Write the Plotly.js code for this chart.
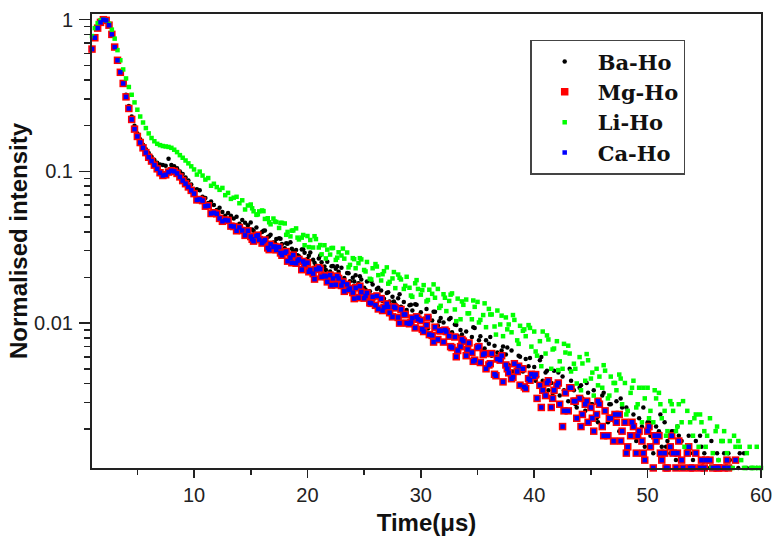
<!DOCTYPE html>
<html>
<head>
<meta charset="utf-8">
<script src="https://cdn.plot.ly/plotly-3.0.1.min.js"></script>
<style>html,body{margin:0;padding:0;background:#fff;}#chart{width:774px;height:541px;}</style>
</head>
<body>
<div id="chart"></div>
<script>
// Main samples: from 1 µs, one every 0.25 µs, up to 60 µs
const timeStart = 1.0;
const timeStep = 0.25;
// Extra samples read in the tail, between the main ones: from 15.125 µs, one every 0.5 µs
const midStart = 15.125;
const midStep = 0.5;

const seriesNames = ["Ba-Ho", "Mg-Ho", "Li-Ho", "Ca-Ho"];

// Normalised intensity (null = below the axis)
const baHo = [
.64,.76,.88,.96, 1.0,.99,.92,.80, .66,.54,.45,.38, .32,.27,.23,.20,
.178,.163,.150,.140, .132,.125,.119,.114, .111,.110,.109,.121, .110,.108,.105,.100,
.096,.091,.087,.082, .0758,.0762,.0750,.0680, .0667,.0618,.0634,.0600, .0556,.0577,.0541,.0511,
.0532,.0511,.0489,.0502, .0452,.0479,.0459,.0441, .0460,.0406,.0427,.0386, .0398,.0408,.0370,.0383,
.0340,.0358,.0363,.0332, .0312,.0333,.0341,.0297, .0303,.0276,.0306,.0291, .0265,.0292,.0262,.0240,
.0267,.0252,.0236,.0254, .0219,.0238,.0228,.0218, .0232,.0198,.0214,.0189, .0199,.0207,.0183,.0194,
.0171,.0188,.0162,.0180, .0152,.0171,.0164,.0145, .0158,.0139,.0149,.0133, .0146,.0128,.0138,.0122,
.0131,.0121,.0133,.0112, .0118,.0107,.0124,.0110, .0104,.0119,.0096,.0108, .0101,.0091,.0106,.0087,
.0098,.0082,.0090,.0078, .0088,.0075,.0081,.0093, .0070,.0082,.0066,.0077, .0073,.0061,.0071,.0064,
.0059,.0070,.0062,.0053, .0066,.0055,.0051,.0060, .0048,.0058,.0052,.0046, .00514,.00444,.00569,.00417,
.00472,.00361,.00403,.00486, .00389,.00333,.00444,.00347, .00306,.00417,.00361,.00278, .00375,.00319,.00264,.00347,
.00292,.00361,.00236,.00306, .00333,.00264,.00222,.00292, .00250,.00306,.00194,.00278, .00222,.00264,.00181,.00250,
.00167,.00236,.00208,.00153, .00222,.00181,.00139,.00208, .00194,.00153,.00222,.00167, .00139,.00194,.00125,.00181,
.00167,.00111,.00153,.00139, .00125,.00167,.00111,.00153, .00139,.00111,.00125,null, .00111,.00125,null,.00139,
null,.00125,.00111,null, .00111,null,.00139,.00111, null,.00111,null,null,
null
];
const baHoMid = [
.0414,.0381,.0407,.0374,.0340,.0360,.0336,.0309,.0280,.0307,
.0278,.0250,.0279,.0224,.0237,.0237,.0187,.0213,.0188,.0204,
.0166,.0189,.0168,.0140,.0160,.0139,.0155,.0119,.0132,.0132,
.0106,.0092,.0119,.0103,.0086,.0108,.0097,.0084,.0070,.0094,
.0077,.0068,.0081,.0060,.0066,.0069,.0048,.0061,.0051,.0059,
.00417,.00597,.00486,.00333,.00472,.00361,.005,.00292,.00389,.00403,
.00292,.00222,.00347,.00292,.00222,.00319,.00278,.00222,.00181,.00278,
.00222,.00181,.0025,.00153,.00194,.00208,.00111,.00181,.00139,.00181,
.00111,.00167,.00139,null,.00139,null,.00139,null,.00111,.00111
];

const mgHo = [
.64,.76,.88,.96, 1.0,.99,.92,.80, .66,.54,.45,.38, .31,.26,.22,.19,
.17,.155,.143,.133, .124,.117,.110,.104, .098,.094,.095,.099, .101,.100,.097,.092,
.087,.083,.079,.075, .0714,.0649,.0653,.0642, .0590,.0594,.0528,.0534, .0526,.0490,.0469,.0478,
.0475,.0436,.0433,.0406, .0427,.0408,.0379,.0406, .0372,.0347,.0374,.0355, .0337,.0353,.0313,.0331,
.0317,.0304,.0317,.0280, .0291,.0256,.0270,.0281, .0248,.0263,.0225,.0244, .0250,.0224,.0212,.0226,
.0232,.0202,.0205,.0187, .0207,.0197,.0179,.0197, .0177,.0162,.0180,.0169, .0159,.0171,.0147,.0160,
.0146,.0158,.0136,.0149, .0131,.0124,.0145,.0127, .0134,.0117,.0110,.0126, .0109,.0123,.0114,.0100,
.0099,.0108,.0093,.0106, .0104,.0088,.0097,.0084, .0083,.0094,.0078,.0089, .0075,.0088,.0082,.0069,
.0081,.0066,.0070,.0076, .0061,.0074,.0064,.0057, .0069,.0055,.0062,.0050, .0053,.0063,.0046,.0058,
.0057,.0041,.0053,.0047, .0043,.0054,.0048,.0039, .0050,.0037,.0043,.0046, .00444,.00319,.00389,.00361,
.00333,.00417,.00278,.00361, .00389,.00292,.00208,.00347, .00264,.00375,.00306,.00236, .00319,.00250,.00292,.00222,
.00278,.00194,.00250,.00292, .00208,.00264,.00181,.00236, .00167,.00222,.00250,.00194, .00222,.00153,.00181,.00208,
.00139,.00194,.00167,.00125, .00194,.00153,.00111,.00167, .00181,.00125,.00139,.00111, .00153,.00139,.00111,.00167,
.00125,null,.00139,.00111, .00111,.00139,null,.00125, .00111,null,.00125,.00111, null,.00111,null,.00111,
.00125,null,null,.00125, null,null,null,null, null,null,null,null,
null
];
const mgHoMid = [
.0357,.0380,.0346,.0305,.0320,.0290,.0296,.0250,.0258,.0255,
.0218,.0195,.0227,.0203,.0178,.0204,.0187,.0166,.0145,.0175,
.0151,.0135,.0151,.0121,.0128,.0128,.0100,.0114,.0101,.0110,
.0091,.0109,.0075,.0089,.0090,.0070,.0060,.0078,.0067,.0056,
.0070,.0063,.0054,.0045,.0061,.0050,.0044,.0052,.0038,.0042,
.00458,.00278,.00403,.00319,.00403,.00264,.00375,.00306,.00208,.00306,
.00236,.00306,.00181,.00236,.0025,.00167,.00139,.00222,.00181,.00139,
.00208,.00181,.00139,.00111,.00181,.00139,.00111,.00153,null,.00111,
.00125,null,.00111,null,.00111,null,null,null,null,null
];

const liHo = [
.78,.88,.95,.99, 1.0,.99,.94,.86, .75,.63,.54,.47, .41,.36,.32,.285,
.255,.23,.21,.193, .178,.166,.158,.152, .149,.147,.146,.145, .143,.139,.134,.128,
.123,.118,.113,.108, .1030,.0953,.0997,.0939, .0883,.0904,.0804,.0829, .0788,.0756,.0778,.0697,
.0722,.0659,.0671,.0680, .0617,.0645,.0561,.0596, .0605,.0546,.0517,.0545, .0553,.0486,.0491,.0448,
.0489,.0464,.0424,.0458, .0454,.0399,.0373,.0408, .0421,.0356,.0366,.0326, .0375,.0353,.0315,.0358,
.0315,.0284,.0326,.0305, .0283,.0313,.0261,.0293, .0279,.0266,.0292,.0242, .0268,.0230,.0248,.0263,
.0224,.0253,.0196,.0230, .0245,.0207,.0191,.0220, .0233,.0187,.0197,.0170, .0209,.0194,.0168,.0202,
.0171,.0149,.0183,.0168, .0154,.0178,.0139,.0166, .0156,.0147,.0168,.0130, .0155,.0120,.0140,.0157,
.0123,.0145,.0106,.0132, .0143,.0116,.0106,.0128, .0138,.0105,.0113,.0094, .0124,.0114,.0095,.0121,
.0098,.0082,.0109,.0098, .0087,.0105,.0077,.0096, .0089,.0082,.0097,.0070, .0088,.0061,.0076,.0088,
.0063,.0078,.0050,.0068, .0076,.0056,.0050,.0064, .0071,.0048,.0054,.0040, .00597,.00542,.00417,.00569,
.00431,.00333,.005,.00444, .00375,.00486,.00319,.00444, .00403,.00361,.00458,.00292, .00403,.00264,.00347,.00417,
.00278,.00375,.00222,.00319, .00375,.00264,.00222,.00319, .00347,.00236,.00264,.00194, .00306,.00264,.00194,.00292,
.00222,.00153,.00264,.00222, .00181,.0025,.00153,.00222, .00194,.00181,.00236,.00139, .00194,.00125,.00167,.00194,
.00139,.00167,.00111,.00153, .00167,.00125,.00111,.00139, .00153,.00111,.00111,.00111,
.00111
];
const liHoMid = [
.0571,.0521,.0547,.0462,.0467,.0458,.0382,.0407,.0366,.0381,
.0317,.0374,.0327,.0267,.0312,.0270,.0310,.0233,.0264,.0268,
.0219,.0194,.0236,.0210,.0182,.0217,.0199,.0176,.0152,.0192,
.0165,.0142,.0180,.0126,.0147,.0154,.0103,.0139,.0116,.0141,
.0101,.0135,.0114,.0084,.0112,.0091,.0113,.0073,.0091,.0093,
.0065,.0052,.0083,.0067,.0049,.0073,.0063,.0050,.00361,.00625,
.00472,.00389,.00528,.00333,.00403,.00431,.0025,.00375,.00292,.00375,
.00236,.00361,.00292,.00181,.00292,.00208,.00306,.00153,.00236,.0025,
.00153,.00111,.00208,.00167,.00111,.00181,.00153,.00111,.00111,.00153
];

const caHo = [
.64,.76,.88,.96, 1.0,.99,.92,.80, .66,.54,.45,.38, .31,.26,.22,.19,
.17,.155,.143,.133, .124,.117,.110,.104, .098,.094,.095,.099, .101,.100,.097,.092,
.087,.083,.079,.075, .0714,.0649,.0653,.0642, .0590,.0594,.0528,.0534, .0526,.0490,.0469,.0478,
.0475,.0436,.0433,.0406, .0427,.0408,.0379,.0406, .0372,.0347,.0374,.0355, .0337,.0353,.0313,.0331,
.0317,.0304,.0317,.0280, .0291,.0256,.0270,.0281, .0248,.0263,.0225,.0244, .0250,.0224,.0212,.0226,
.0232,.0202,.0205,.0187, .0207,.0197,.0179,.0197, .0177,.0162,.0180,.0169, .0159,.0171,.0147,.0160,
.0146,.0158,.0136,.0149, .0131,.0124,.0145,.0127, .0134,.0117,.0110,.0126, .0109,.0123,.0114,.0100,
.0099,.0108,.0093,.0106, .0104,.0088,.0097,.0084, .0083,.0094,.0078,.0089, .0075,.0088,.0082,.0069,
.0081,.0066,.0070,.0076, .0061,.0074,.0064,.0057, .0069,.0055,.0062,.0050, .0053,.0063,.0046,.0058,
.0057,.0041,.0053,.0047, .0043,.0054,.0048,.0039, .0050,.0037,.0043,.0046, .00444,.00319,.00389,.00361,
.00333,.00417,.00278,.00361, .00389,.00292,.00208,.00347, .00264,.00375,.00306,.00236, .00319,.00250,.00292,.00222,
.00278,.00194,.00250,.00292, .00208,.00264,.00181,.00236, .00167,.00222,.00250,.00194, .00222,.00153,.00181,.00208,
.00139,.00194,.00167,.00125, .00194,.00153,.00111,.00167, .00181,.00125,.00139,.00111, .00153,.00139,.00111,.00167,
.00125,null,.00139,.00111, .00111,.00139,null,.00125, .00111,null,.00125,.00111, null,.00111,null,.00111,
.00125,null,null,.00125, null,null,null,null, null,null,null,null,
null
];
const caHoMid = [
.0357,.0380,.0346,.0305,.0320,.0290,.0296,.0250,.0258,.0255,
.0218,.0195,.0227,.0203,.0178,.0204,.0187,.0166,.0145,.0175,
.0151,.0135,.0151,.0121,.0128,.0128,.0100,.0114,.0101,.0110,
.0091,.0109,.0075,.0089,.0090,.0070,.0060,.0078,.0067,.0056,
.0070,.0063,.0054,.0045,.0061,.0050,.0044,.0052,.0038,.0042,
.00458,.00278,.00403,.00319,.00403,.00264,.00375,.00306,.00208,.00306,
.00236,.00306,.00181,.00236,.0025,.00167,.00139,.00222,.00181,.00139,
.00208,.00181,.00139,.00111,.00181,.00139,.00111,.00153,null,.00111,
.00125,null,.00111,null,.00111,null,null,null,null,null
];

// Axis ticks
const yTickVals = [0.01, 0.1, 1];
const yTickText = ["0.01", "0.1", "1"];
const yMinorVals = [0.002,0.003,0.004,0.005,0.006,0.007,0.008,0.009,
                    0.02,0.03,0.04,0.05,0.06,0.07,0.08,0.09,
                    0.2,0.3,0.4,0.5,0.6,0.7,0.8,0.9];
const xTickVals = [10, 20, 30, 40, 50, 60];
const xMinorVals = [5, 15, 25, 35, 45, 55];

const styles = [
  {symbol: "circle", size: 4.5, color: "#000000"},
  {symbol: "square", size: 7.5, color: "#ff0000"},
  {symbol: "square", size: 4.5, color: "#00ff00"},
  {symbol: "square", size: 4.5, color: "#0000ff"}
];
const mainData = [baHo, mgHo, liHo, caHo];
const midData = [baHoMid, mgHoMid, liHoMid, caHoMid];

const traces = [];
for (let i = 0; i < 4; i++) {
  traces.push({type: "scatter", mode: "markers", name: seriesNames[i], legendgroup: seriesNames[i],
    x0: timeStart, dx: timeStep, y: mainData[i], marker: styles[i], cliponaxis: false});
  traces.push({type: "scatter", mode: "markers", name: seriesNames[i], legendgroup: seriesNames[i], showlegend: false,
    x0: midStart, dx: midStep, y: midData[i], marker: styles[i], cliponaxis: false});
}

const axisColor = "#222222";
const layout = {
  width: 774, height: 541,
  margin: {l: 92, r: 13, t: 14, b: 73},
  paper_bgcolor: "#ffffff", plot_bgcolor: "#ffffff",
  showlegend: true,
  font: {family: "Liberation Sans, Arial, sans-serif", color: "#222"},
  xaxis: {
    range: [1, 60], showgrid: false, zeroline: false,
    showline: true, linecolor: axisColor, linewidth: 2, mirror: true,
    ticks: "outside", ticklen: 8, tickwidth: 1.5, tickcolor: axisColor,
    tickmode: "array", tickvals: xTickVals,
    tickfont: {size: 20, color: "#222"},
    minor: {tickmode: "array", tickvals: xMinorVals, ticks: "outside", ticklen: 5, tickwidth: 1.5, tickcolor: axisColor, showgrid: false},
    title: {text: "Time(μs)", font: {size: 24, weight: "bold", color: "#111"}, standoff: 9}
  },
  yaxis: {
    type: "log", range: [-2.955, 0.0375], showgrid: false, zeroline: false,
    showline: true, linecolor: axisColor, linewidth: 2, mirror: true,
    ticks: "outside", ticklen: 11, tickwidth: 1.5, tickcolor: axisColor,
    tickmode: "array", tickvals: yTickVals, ticktext: yTickText,
    ticklabelstandoff: 2,
    tickfont: {size: 20, color: "#222"},
    minor: {tickmode: "array", tickvals: yMinorVals, ticks: "outside", ticklen: 6, tickwidth: 1.5, tickcolor: axisColor, showgrid: false},
    title: {text: "Normalised intensity", font: {size: 24, weight: "bold", color: "#111"}, standoff: 0}
  },
  legend: {
    x: 0.655, y: 0.943, xanchor: "left", yanchor: "top",
    bgcolor: "#ffffff", bordercolor: "#444444", borderwidth: 1.5,
    font: {family: "DejaVu Serif, Liberation Serif, serif", size: 21, weight: "bold", color: "#111"},
    itemwidth: 56, traceorder: "normal"
  }
};

Plotly.newPlot("chart", traces, layout, {staticPlot: true, displayModeBar: false});
</script>
</body>
</html>
